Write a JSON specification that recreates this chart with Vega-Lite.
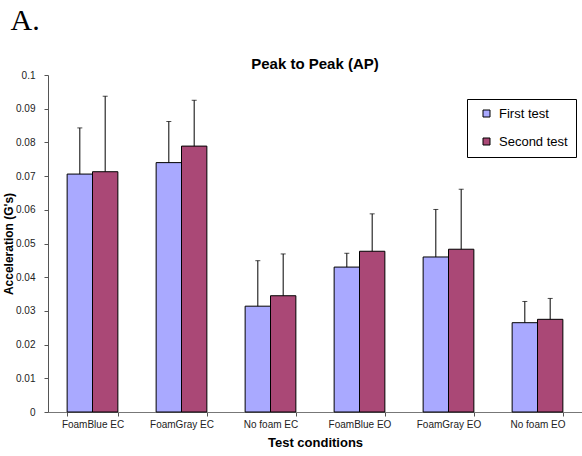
{
  "$schema": "https://vega.github.io/schema/vega-lite/v6.json",
  "padding": {"left": 2, "top": 6, "right": 0, "bottom": 0},
  "background": "white",
  "title": {"text": "A.", "anchor": "start", "font": "Liberation Serif", "fontSize": 30, "fontWeight": "normal", "color": "black", "dx": 8, "offset": 21},
  "config": {"view": {"stroke": null}},
  "data": {"values": [
    {"cond": "FoamBlue EC", "test": "First test", "mean": 0.0706, "upper": 0.0843},
    {"cond": "FoamBlue EC", "test": "Second test", "mean": 0.0713, "upper": 0.0937},
    {"cond": "FoamGray EC", "test": "First test", "mean": 0.0740, "upper": 0.0862},
    {"cond": "FoamGray EC", "test": "Second test", "mean": 0.0789, "upper": 0.0925},
    {"cond": "No foam EC", "test": "First test", "mean": 0.0314, "upper": 0.0449},
    {"cond": "No foam EC", "test": "Second test", "mean": 0.0345, "upper": 0.0469},
    {"cond": "FoamBlue EO", "test": "First test", "mean": 0.0430, "upper": 0.0471},
    {"cond": "FoamBlue EO", "test": "Second test", "mean": 0.0477, "upper": 0.0588},
    {"cond": "FoamGray EO", "test": "First test", "mean": 0.0460, "upper": 0.0601},
    {"cond": "FoamGray EO", "test": "Second test", "mean": 0.0483, "upper": 0.0661},
    {"cond": "No foam EO", "test": "First test", "mean": 0.0265, "upper": 0.0328},
    {"cond": "No foam EO", "test": "Second test", "mean": 0.0275, "upper": 0.0337}
  ]},
  "vconcat": [{
    "width": 534,
    "height": 337,
    "title": {"text": "Peak to Peak (AP)", "font": "Liberation Sans", "fontSize": 15, "fontWeight": "bold", "color": "black", "offset": -2, "anchor": "middle"},
    "encoding": {
      "x": {
        "field": "cond", "type": "nominal",
        "sort": ["FoamBlue EC", "FoamGray EC", "No foam EC", "FoamBlue EO", "FoamGray EO", "No foam EO"],
        "scale": {"paddingInner": 0.43, "paddingOuter": 0.215},
        "axis": {
          "title": "Test conditions", "titleFont": "Liberation Sans", "titleFontSize": 13, "titleFontWeight": "bold", "titleColor": "black", "titlePadding": 7,
          "labelAngle": 0, "labelFont": "Liberation Sans", "labelFontSize": 10, "labelColor": "#222", "labelPadding": 3,
          "tickBand": "extent", "tickSize": 4, "tickColor": "#555", "domainColor": "#777", "grid": false
        }
      },
      "xOffset": {"field": "test", "type": "nominal", "sort": ["First test", "Second test"]}
    },
    "layer": [
      {
        "mark": {"type": "bar", "stroke": "black", "strokeWidth": 1},
        "encoding": {
          "y": {
            "field": "mean", "type": "quantitative",
            "scale": {"domain": [0, 0.1], "nice": false},
            "axis": {
              "title": "Acceleration (G's)", "titleFont": "Liberation Sans", "titleFontSize": 12, "titleFontWeight": "bold", "titleColor": "black", "titlePadding": 0,
              "values": [0, 0.01, 0.02, 0.03, 0.04, 0.05, 0.06, 0.07, 0.08, 0.09, 0.1],
              "format": "~g", "labelFont": "Liberation Sans", "labelFontSize": 10, "labelColor": "#222", "labelPadding": 9,
              "tickSize": 4, "tickColor": "#555", "domainColor": "#555", "grid": false
            }
          },
          "color": {
            "field": "test", "type": "nominal",
            "scale": {"domain": ["First test", "Second test"], "range": ["#A9A9FF", "#AA4876"]},
            "legend": {
              "title": null, "orient": "none", "legendX": 419, "legendY": 24,
              "strokeColor": "black", "fillColor": "white", "padding": 8,
              "symbolType": "square", "symbolSize": 49, "symbolStrokeColor": "black", "symbolStrokeWidth": 1, "symbolOffset": 5,
              "labelFont": "Liberation Sans", "labelFontSize": 13, "labelColor": "black",
              "rowPadding": 14, "labelOffset": 6
            }
          }
        }
      },
      {
        "mark": {"type": "rule", "color": "black", "strokeWidth": 1},
        "encoding": {
          "y": {"field": "mean", "type": "quantitative",
            "scale": {"domain": [0, 0.1], "nice": false},
            "axis": {
              "title": "Acceleration (G's)", "titleFont": "Liberation Sans", "titleFontSize": 12, "titleFontWeight": "bold", "titleColor": "black", "titlePadding": 0,
              "values": [0, 0.01, 0.02, 0.03, 0.04, 0.05, 0.06, 0.07, 0.08, 0.09, 0.1],
              "format": "~g", "labelFont": "Liberation Sans", "labelFontSize": 10, "labelColor": "#222", "labelPadding": 9,
              "tickSize": 4, "tickColor": "#555", "domainColor": "#555", "grid": false
            }},
          "y2": {"field": "upper"}
        }
      },
      {
        "mark": {"type": "tick", "color": "black", "thickness": 1, "size": 5},
        "encoding": {
          "y": {"field": "upper", "type": "quantitative",
            "scale": {"domain": [0, 0.1], "nice": false},
            "axis": {
              "title": "Acceleration (G's)", "titleFont": "Liberation Sans", "titleFontSize": 12, "titleFontWeight": "bold", "titleColor": "black", "titlePadding": 0,
              "values": [0, 0.01, 0.02, 0.03, 0.04, 0.05, 0.06, 0.07, 0.08, 0.09, 0.1],
              "format": "~g", "labelFont": "Liberation Sans", "labelFontSize": 10, "labelColor": "#222", "labelPadding": 9,
              "tickSize": 4, "tickColor": "#555", "domainColor": "#555", "grid": false
            }}
        }
      }
    ]
  }]
}
